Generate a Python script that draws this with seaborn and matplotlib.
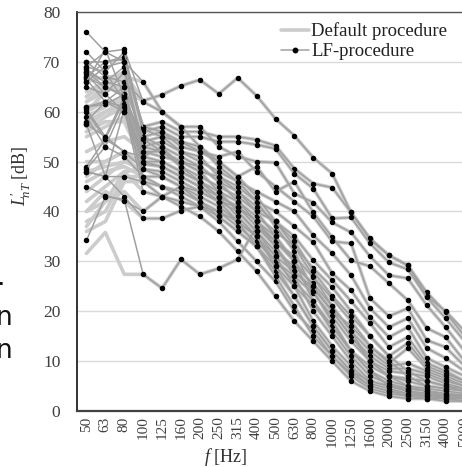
import matplotlib
matplotlib.use("Agg")
import matplotlib.pyplot as plt
import seaborn as sns
import pandas as pd
from matplotlib.lines import Line2D

freqs = ["50", "63", "80", "100", "125", "160", "200", "250", "315", "400", "500",
         "630", "800", "1000", "1250", "1600", "2000", "2500", "3150", "4000", "5000"]

# LF-procedure series (dB), one list per measurement
lf_series = [
    [70, 67, 66, 62.2, 63.4, 65.2, 66.4, 63.6, 66.8, 63.2, 58.6, 55.2, 50.8, 47.6, 39.8, 34.4, 31.2, 29.2, 23.8, 19.8, 15],
    [34.2, 43, 42.4, 27.4, 24.6, 30.4, 27.4, 28.6, 30.4, 37, 33, 28, 24, 18, 12, 8, 5, 4, 3.5, 3, 3],
    [48, 47, 43, 38.6, 38.6, 40.2, 41, 40, 38, 35, 30, 26, 22, 17, 12, 8, 5, 4, 3, 2.5, 2.5],
    [45, 43.2, 42.2, 40, 43, 45, 44, 42, 41, 38, 34, 30, 25, 20, 15, 10, 7, 5, 4, 3, 3],
    [67, 70, 71, 57, 58, 56, 56, 55, 55, 54.4, 53.2, 48.6, 45.6, 44.8, 39.8, 34.6, 31.2, 29.2, 23, 20, 16],
    [66, 69, 70, 56, 57, 55, 55, 54, 54, 53.4, 52.6, 47.6, 44.6, 38.6, 38.8, 33.6, 29.8, 28.4, 22.8, 18.6, 14],
    [69, 72, 72.5, 62, 60, 57, 57, 53, 51, 50, 49.8, 43.6, 41.8, 37.8, 35.8, 31, 27.2, 26.6, 21.2, 16.8, 12],
    [68, 65, 63, 54, 55, 54, 52, 50, 47, 49, 44, 46, 39.8, 34.8, 30.2, 29, 25.6, 22.2, 16.6, 14.8, 10],
    [72, 68, 62, 55, 56, 53, 52, 51, 52, 48, 45, 42, 39, 34, 33.6, 22.6, 19, 20.6, 14.2, 12.8, 9],
    [68.5, 66, 69, 53, 54, 52, 50, 48, 46, 44, 42, 40, 35.2, 31.6, 27.2, 20.6, 16.8, 18.6, 12.6, 10.6, 8],
    [67.5, 63.5, 68, 52, 52, 50, 48, 47, 45, 42, 40, 37, 33.8, 27.6, 24.2, 18.8, 14.8, 16.8, 10.6, 8.8, 7],
    [66.5, 62, 65, 51, 53, 49, 47, 45, 43, 40, 38, 35, 30.2, 26.2, 22, 17.6, 12.8, 14.8, 9.6, 8, 6],
    [61, 61.5, 63.5, 50, 50, 48, 46, 44, 42, 39, 36, 33, 28.6, 24.8, 20, 15, 11, 13.6, 9, 7.5, 6],
    [60.5, 55, 63, 49.5, 49, 47, 45, 43, 41, 37, 34, 31, 26.8, 22.6, 18, 13, 9.6, 12.6, 8.5, 7, 5.5],
    [60, 54.5, 62.5, 48.5, 48, 46, 44, 42, 40, 36, 32, 29, 25.6, 21, 16, 12, 9, 9.6, 8, 6.5, 5],
    [59, 53, 61.5, 47, 47, 45, 43, 41, 38, 35, 31, 28, 24.6, 20, 15, 11, 8.5, 8.5, 7.5, 6, 5],
    [58, 62, 61, 46, 45, 44, 42, 40, 37, 34, 30, 27, 23.6, 19, 14, 10, 8, 7.5, 7, 5.5, 4.5],
    [57.5, 47, 60.5, 44, 43, 42, 41, 39, 36, 33, 29, 25, 21.2, 17, 12, 9, 7, 6.5, 6, 5, 4],
    [70, 70, 70.5, 57, 56, 54, 53, 49, 46, 42, 37, 32, 24, 18, 12, 8, 6, 5, 4.5, 4, 3.5],
    [69, 68, 72, 56.5, 55, 52, 51, 47, 44, 40, 35, 30, 22, 16, 11, 7, 5.5, 4.5, 4, 3.5, 3],
    [68, 66, 65, 55, 53, 51, 49, 46, 42, 38, 33, 27, 20, 15, 10, 6, 5, 4, 3.5, 3, 3],
    [67, 65, 63.5, 53, 52, 50, 48, 44, 40, 36, 31, 25, 18, 13, 9, 5.5, 4.5, 3.5, 3, 3, 2.5],
    [49, 54.5, 52, 48.5, 47, 45, 42, 39, 36, 33, 28, 23, 17, 12, 8, 5, 4, 3, 3, 2.5, 2.5],
    [48.5, 53, 51, 47, 45, 43, 41, 38, 34, 30, 26, 20, 16, 11, 7, 4.5, 3.5, 3, 2.5, 2.5, 2],
    [48, 47, 47, 46, 43, 41, 39, 36, 32, 28, 23, 18, 14, 10, 6, 4, 3, 2.5, 2.5, 2, 2],
    [65, 63.5, 60, 50, 49, 47, 45, 42, 38, 33, 27, 21, 15, 11, 7.5, 5, 4, 3.5, 3, 2.8, 2.5],
    [66, 72.5, 63, 54.5, 52, 49, 46, 43, 39, 35, 29, 23, 17, 12, 8, 6, 5, 4.5, 4, 3.5, 3.2],
    [76, 72, 70, 66, 60, 57, 53, 50, 47, 43, 38, 33, 27, 21, 16, 10, 7, 6, 5, 4.5, 4],
    [61, 62, 60, 52, 51, 50, 49, 46, 44, 41, 38, 34, 28, 23, 19, 15, 11, 8, 6, 5, 4.5],
    [57.5, 55, 52, 51, 50, 48, 46, 43, 41, 38, 35, 30, 25, 20, 17, 13, 10, 7, 5, 4.5, 4],
]

# Default procedure: differs only at 50, 63 and 80 Hz (same series order)
default_50 = [64, 31.6, 40, 37, 62, 60, 63, 58, 61, 59, 57, 56, 55, 50, 48, 46, 47, 42,
              63, 62, 60, 58, 40, 38, 36, 56, 57, 66, 52, 44]
default_63 = [66, 35.8, 44, 42, 65, 64, 66, 60, 62, 61, 60, 59, 57, 50, 49, 48, 50, 45,
              66, 64, 62, 60, 42, 40, 38, 58, 60, 67, 54, 47]
default_80 = [64, 27.4, 42, 44, 67, 66, 68, 61, 60, 63, 62, 61, 59, 52, 50, 49, 52, 48,
              67, 66, 62, 61, 48, 47, 46, 58, 60, 67, 55, 50]

rows = []
for i, vals in enumerate(lf_series):
    dvals = [default_50[i], default_63[i], default_80[i]] + vals[3:]
    for j, f in enumerate(freqs):
        rows.append({"series": i, "pos": j, "freq": f, "L": vals[j], "proc": "LF-procedure"})
        rows.append({"series": i, "pos": j, "freq": f, "L": dvals[j], "proc": "Default procedure"})
df = pd.DataFrame(rows)

sns.set_theme(style="white")
plt.rcParams["font.family"] = ["Liberation Serif", "DejaVu Serif"]
plt.rcParams["mathtext.fontset"] = "custom"
plt.rcParams["mathtext.it"] = "Liberation Serif:italic"
plt.rcParams["mathtext.rm"] = "Liberation Serif"

fig = plt.figure(figsize=(4.62, 4.67), dpi=100)
ax = fig.add_axes([77 / 462, 56 / 467, 397 / 462, 399 / 467])

sns.lineplot(data=df[df.proc == "Default procedure"], x="pos", y="L", units="series",
             estimator=None, color="#cccccc", linewidth=2.6, ax=ax, legend=False)
sns.lineplot(data=df[df.proc == "LF-procedure"], x="pos", y="L", units="series",
             estimator=None, color="#a0a0a0", linewidth=1.1, marker="o", markersize=3.2,
             markerfacecolor="black", markeredgecolor="black", ax=ax, legend=False)

ax.set_xlim(-0.5, len(freqs) - 0.5)
ax.set_ylim(0, 80)
ax.set_xticks(range(len(freqs)))
ax.set_xticklabels(freqs, rotation=90, fontsize=11, color="#404040")
ax.set_yticks(range(0, 81, 10))
ax.set_yticklabels([str(v) for v in range(0, 81, 10)], fontsize=12.5, color="#404040")
ax.tick_params(axis="both", length=0, pad=4)
ax.tick_params(axis="y", pad=12)
ax.yaxis.grid(True, color="#dadada", linewidth=1.0)
ax.set_axisbelow(True)
ax.spines["right"].set_visible(False)
ax.spines["left"].set_color("#222222")
ax.spines["bottom"].set_color("#404040")
ax.spines["bottom"].set_linewidth(1.6)
ax.spines["left"].set_linewidth(1.3)
ax.spines["top"].set_color("#555555")
ax.spines["top"].set_linewidth(1.0)

ax.set_ylabel(r"$L^{\!\prime}_{\!nT}$ [dB]", fontsize=13, color="#303030")
ax.yaxis.set_label_coords(-0.11, 0.59)
ax.set_xlabel(r"$f$ [Hz]", fontsize=13, color="#303030", va="top")
ax.xaxis.set_label_coords(0.373, -0.088)

handles = [Line2D([], [], color="#cccccc", linewidth=2.6),
           Line2D([], [], color="#a0a0a0", linewidth=1.1, marker="o", markersize=3.2,
                  markerfacecolor="black", markeredgecolor="black")]
fig.legend(handles, ["Default procedure", "LF-procedure"], loc="upper left",
           bbox_to_anchor=(272 / 462, 1 - 13 / 467), frameon=False, fontsize=13.5,
           handlelength=1.45, handletextpad=0.15, labelspacing=0.15, borderpad=0,
           labelcolor="#202020")

for y, t in [(285, "."), (325, "n"), (358, "n")]:
    fig.text(-4 / 462, (467 - y) / 467, t, fontsize=19, family=["DejaVu Sans"],
             color="#111111", ha="left", va="baseline")

fig.savefig("out.png", dpi=100)
